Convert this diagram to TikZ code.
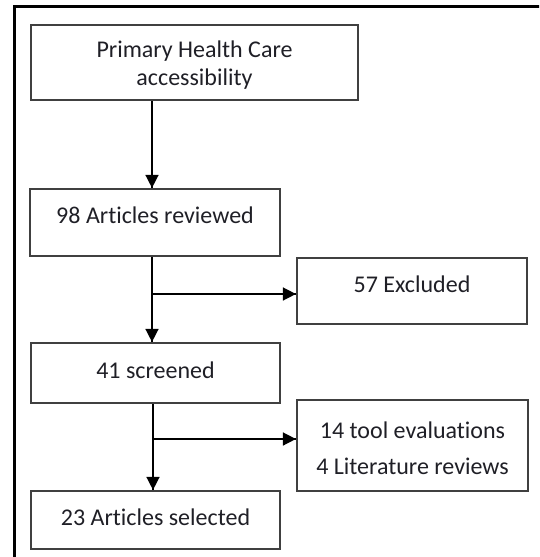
\documentclass[tikz,border=0pt]{standalone}
\usepackage{fontspec}
\setmainfont{Carlito}[Ligatures=NoCommon]
\usepackage{tikz}
\usetikzlibrary{arrows.meta}
\usetikzlibrary{decorations.markings}
\usetikzlibrary{positioning}
\definecolor{boxline}{rgb}{0.25, 0.25, 0.25}
\definecolor{ink}{rgb}{0.12, 0.12, 0.15}
\tikzset{flow/.style = {line width=1.5pt,
                        decoration={markings,
                                    mark=at position 1 with {\arrow{Triangle[width=13pt,length=13pt]}}},
                        postaction={decorate}}}
\tikzset{box/.style = {draw=boxline, line width=2.2pt, inner sep=0pt}}
\tikzset{txt/.style = {text=ink, align=center, inner sep=0pt,
                       font=\fontsize{24}{28}\selectfont}}

\begin{document}
\begin{tikzpicture}[x=1pt, y=-1pt]
      \useasboundingbox (0, 0) rectangle (539, 557);
      \clip (0, 0) rectangle (539, 557);

      % outer frame, runs off the page
      \draw [line width=3pt] (14, 570) -- (14, 6.5) -- (560, 6.5);

      \node [box, minimum width=327, minimum height=75] (phc) at (194.5, 62.5) {};
      \node [box, minimum width=250, minimum height=67] (rev) at (155, 222.5) {};
      \node [box, minimum width=249, minimum height=60] (scr) at (155.5, 373) {};
      \node [box, minimum width=249, minimum height=58] (sel) at (155.5, 520) {};
      \node [box, minimum width=230, minimum height=66] (excl) at (412, 291) {};
      \node [box, minimum width=231, minimum height=91] (eval) at (412.5, 445.5) {};

      \node [txt] (phctext) at ([yshift=-3pt]phc.center) {Primary Health Care\\accessibility};
      \node [txt] (revtext) at ([yshift=7pt]rev.center) {98 Articles reviewed};
      \node [txt] (scrtext) at ([yshift=2.5pt]scr.center) {41 screened};
      \node [txt] (seltext) at ([yshift=3pt]sel.center) {23 Articles selected};
      \node [txt] (excltext) at ([yshift=6.5pt]excl.center) {57 Excluded};
      \node [txt, font=\fontsize{24}{36}\selectfont] (evaltext) at ([yshift=-3pt]eval.center)
            {14 tool evaluations\\4 Literature reviews};

      \coordinate (trunk) at (152, 0);
      \coordinate (split1) at (152, 294);
      \coordinate (split2) at (153, 439);

      \draw [flow] (trunk |- phc.south) -- (trunk |- rev.north);

      \draw [flow] (split1 |- rev.south) -- (split1 |- scr.north);
      \draw [flow] (split1) -- (split1 -| excl.west);

      \draw [flow] (split2 |- scr.south) -- (split2 |- sel.north);
      \draw [flow] (split2) -- (split2 -| eval.west);
\end{tikzpicture}
\end{document}
